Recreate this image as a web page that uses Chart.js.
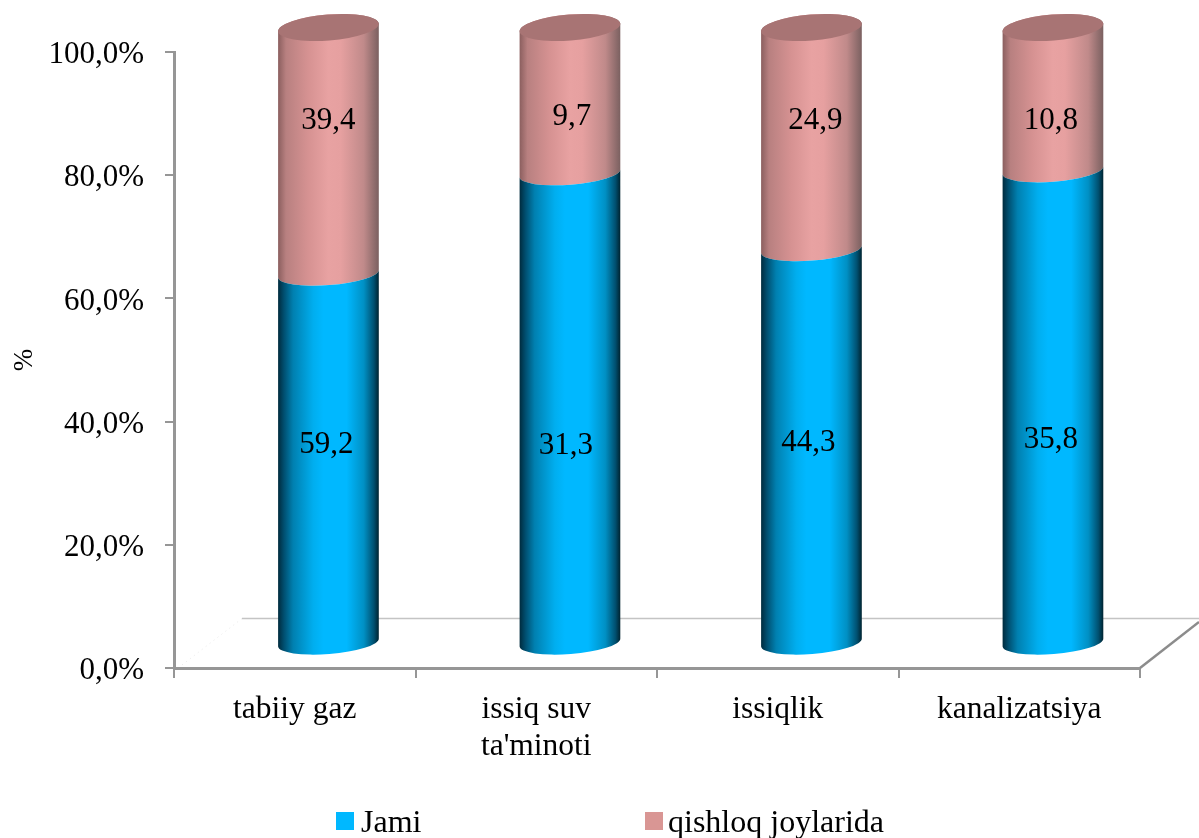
<!DOCTYPE html>
<html>
<head>
<meta charset="utf-8">
<title>chart</title>
<script src="https://cdn.jsdelivr.net/npm/chart.js@4"></script>
<style>
	html, body { margin: 0; padding: 0; background: #fff; }
	#wrap { position: relative; width: 1199px; height: 838px; overflow: hidden; }
	#legend { position: absolute; top: 803px; left: 0; font: 32px "Liberation Serif", serif; color: #000; line-height: 36px; }
	#legend span { position: absolute; white-space: nowrap; }
	#legend i { position: absolute; width: 18px; height: 18px; top: 9px; }
</style>
</head>
<body>
<div id="wrap">
	<canvas id="chart" width="1199" height="838"></canvas>
	<div id="legend"></div>
</div>
<script>
const categories = ['tabiiy gaz', ['issiq suv', "ta'minoti"], 'issiqlik', 'kanalizatsiya'];
const seriesNames = ['Jami', 'qishloq joylarida'];
const jami = [59.2, 31.3, 44.3, 35.8];
const qishloq = [39.4, 9.7, 24.9, 10.8];
const yTicks = [0, 20, 40, 60, 80, 100];

// where Excel left the value labels, in axis units and px from the bar centre
const labelY = [[36.3, 36.1, 36.6, 37.1], [88.9, 89.4, 88.9, 88.9]];
const labelX = [[-2, -4, -3, -2], [0, 2, 4, -2]];
const legendX = [[336, 361], [645, 668]];

const serif = '"Liberation Serif", serif';
const depth = { x: 33.7, y: -24.5 };
const tilt = -4.5 * Math.PI / 180;
const capRy = 11.5;
const topCapRy = 13;
const barColors = ['#00b8ff', '#d99694'];
const capColor = '#a87474';
const sideStops = [
	[[0, '#002a3c'], [0.06, '#004f70'], [0.15, '#0080b0'], [0.35, '#00aeef'], [0.45, '#00b8ff'], [0.68, '#00b8ff'], [0.85, '#0090c4'], [0.95, '#005070'], [1, '#00222e']],
	[[0, '#8a5e5e'], [0.08, '#b88080'], [0.3, '#d69292'], [0.5, '#e8a2a2'], [0.62, '#e6a0a0'], [0.85, '#c08a8a'], [1, '#7a6060']]
];

let toShare = function (value, i) {
	return value / (jami[i] + qishloq[i]) * 100;
};
let commaNum = function (v, digits) {
	return v.toFixed(digits).replace('.', ',');
};

// bars are cylinders here, so the element draws its own outline
Chart.BarElement.prototype.draw = function (ctx) {
	let ds = barColors.indexOf(this.options.backgroundColor);
	let rx = this.width / 2;
	let grad = ctx.createLinearGradient(this.x - rx, 0, this.x + rx, 0);
	sideStops[ds].forEach(function (s) { grad.addColorStop(s[0], s[1]); });

	ctx.save();
	ctx.fillStyle = grad;
	ctx.beginPath();
	ctx.ellipse(this.x, this.base, rx, capRy, tilt, 0, Math.PI);
	if (ds === 0) {
		// lower half of the top ring, the pink one bulges over it
		ctx.ellipse(this.x, this.y, rx, capRy, tilt, Math.PI, 0, true);
	} else {
		ctx.ellipse(this.x, this.y, rx, topCapRy, tilt, Math.PI, Math.PI * 2);
	}
	ctx.closePath();
	ctx.fill();

	if (ds === 1) {
		ctx.fillStyle = capColor;
		ctx.beginPath();
		ctx.ellipse(this.x, this.y, rx, topCapRy, tilt, 0, Math.PI * 2);
		ctx.fill();
	}
	ctx.restore();
};

let cylinderPlugin = {
	id: 'cylinders',
	beforeDatasetsDraw: function (chart) {
		let ctx = chart.ctx;
		let area = chart.chartArea;
		let floorY = area.bottom - 49.5;

		ctx.save();
		ctx.strokeStyle = '#c4c4c4';
		ctx.lineWidth = 1.5;
		ctx.beginPath();
		ctx.moveTo(area.left + 68, floorY);
		ctx.lineTo(1199, floorY);
		ctx.stroke();

		ctx.strokeStyle = '#8c8c8c';
		ctx.lineWidth = 2.5;
		ctx.beginPath();
		ctx.moveTo(area.right, area.bottom);
		ctx.lineTo(1199, area.bottom - 46);
		ctx.stroke();

		ctx.strokeStyle = '#e6e6e6';
		ctx.lineWidth = 1;
		ctx.setLineDash([1, 4]);
		ctx.beginPath();
		ctx.moveTo(area.left + 8, area.bottom - 3);
		ctx.lineTo(area.left + 68, floorY);
		ctx.stroke();
		ctx.restore();

		ctx.save();
		ctx.translate(depth.x, depth.y);
	},
	afterDatasetsDraw: function (chart) {
		let ctx = chart.ctx;
		ctx.restore();

		ctx.save();
		ctx.fillStyle = '#000';
		ctx.font = '31px ' + serif;
		ctx.textAlign = 'center';
		ctx.textBaseline = 'middle';
		[jami, qishloq].forEach(function (values, ds) {
			let bars = chart.getDatasetMeta(ds).data;
			values.forEach(function (v, i) {
				let px = bars[i].x + depth.x + labelX[ds][i];
				ctx.fillText(commaNum(v, 1), px, chart.scales.y.getPixelForValue(labelY[ds][i]));
			});
		});
		ctx.restore();
	}
};

new Chart(document.getElementById('chart'), {
	type: 'bar',
	data: {
		labels: categories,
		datasets: [
			{ label: seriesNames[0], data: jami.map(toShare), backgroundColor: barColors[0], clip: false },
			{ label: seriesNames[1], data: qishloq.map(toShare), backgroundColor: barColors[1], clip: false }
		]
	},
	options: {
		responsive: false,
		animation: false,
		layout: { padding: { top: 52, right: 59, bottom: 0, left: 0 } },
		datasets: { bar: { barThickness: 101 } },
		plugins: {
			legend: { display: false },
			tooltip: { enabled: false }
		},
		scales: {
			x: {
				stacked: true,
				afterFit: function (scale) { scale.height = 170; },
				grid: { drawOnChartArea: false, color: '#969696', lineWidth: 2, tickLength: 10 },
				border: { color: '#969696', width: 3 },
				ticks: {
					color: '#000',
					padding: 13,
					autoSkip: false,
					maxRotation: 0,
					font: { family: serif, size: 31.5, lineHeight: 1.17 }
				}
			},
			y: {
				stacked: true,
				min: 0,
				max: 100,
				afterFit: function (scale) { scale.width = 174; },
				afterBuildTicks: function (scale) {
					scale.ticks = yTicks.map(function (v) { return { value: v }; });
				},
				grid: { drawOnChartArea: false, color: '#969696', lineWidth: 2, tickLength: 9 },
				border: { color: '#969696', width: 3 },
				title: {
					display: true,
					text: '%',
					color: '#000',
					font: { family: serif, size: 27 },
					padding: { top: 9, bottom: 0 }
				},
				ticks: {
					color: '#000',
					padding: 21,
					labelOffset: 3,
					font: { family: serif, size: 31 },
					callback: function (v) { return commaNum(v, 1) + '%'; }
				}
			}
		}
	},
	plugins: [cylinderPlugin]
});

let legendBox = document.getElementById('legend');
seriesNames.forEach(function (name, i) {
	let box = document.createElement('i');
	box.style.left = legendX[i][0] + 'px';
	box.style.background = barColors[i];
	let text = document.createElement('span');
	text.style.left = legendX[i][1] + 'px';
	text.textContent = name;
	legendBox.appendChild(box);
	legendBox.appendChild(text);
});
</script>
</body>
</html>
